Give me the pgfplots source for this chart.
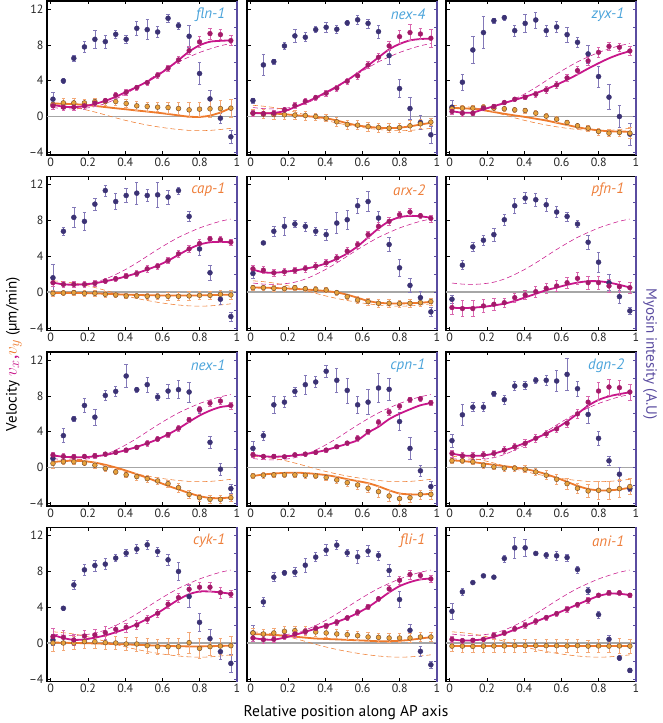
\documentclass[border=0pt]{standalone}
\usepackage{fontspec}
\setmainfont{PT Sans}
\usepackage{pgfplots}
\pgfplotsset{compat=1.18}
\usepackage{pgfplotstable}

\definecolor{mag}{HTML}{C8168A}
\definecolor{magdot}{HTML}{A31A6A}
\definecolor{magerr}{HTML}{D966AE}
\definecolor{org}{HTML}{EE7A2C}
\definecolor{orgdot}{HTML}{E9A23B}
\definecolor{orgedge}{HTML}{7A5230}
\definecolor{orgerr}{HTML}{F3A877}
\definecolor{myo}{HTML}{3B3274}
\definecolor{myoerr}{HTML}{8379B8}
\definecolor{rax}{HTML}{5A4CA0}
\definecolor{tblue}{HTML}{4AA3DA}
\definecolor{torg}{HTML}{EE7E3A}

\pgfplotstableread{
x wx wy
0.012 1.00 1.25
0.068 0.88 1.15
0.124 0.85 1.00
0.181 0.92 0.78
0.237 1.10 0.50
0.293 1.45 0.18
0.349 1.95 -0.15
0.405 2.55 -0.45
0.462 3.25 -0.72
0.518 4.00 -0.95
0.574 4.75 -1.15
0.630 5.45 -1.32
0.686 6.10 -1.45
0.743 6.65 -1.55
0.799 7.15 -1.58
0.855 7.55 -1.55
0.911 7.90 -1.45
0.967 8.15 -1.32
}\wt

% fln-1
\pgfplotstableread{
x m me vx vxe fx vy vye fy
0.012 1.93 0.8 1.19 0.4 1.30 1.34 0.5 1.45
0.068 3.98 0.25 1.04 0.35 1.10 1.52 0.5 1.42
0.124 6.50 0.35 1.04 0.35 1.05 1.52 0.5 1.38
0.181 7.77 0.65 1.19 0.35 1.15 1.52 0.4 1.30
0.237 8.62 1.0 1.49 0.35 1.40 1.67 0.4 1.18
0.293 8.36 0.7 1.78 0.3 1.75 1.67 0.4 1.05
0.349 9.18 0.5 2.38 0.3 2.20 1.67 0.4 0.92
0.405 8.62 0.4 2.71 0.3 2.75 1.45 0.45 0.80
0.462 9.85 0.8 3.23 0.3 3.30 1.19 0.5 0.67
0.518 9.70 1.1 3.79 0.3 3.90 1.12 0.5 0.55
0.574 9.44 0.6 4.61 0.3 4.60 1.04 0.5 0.42
0.630 10.97 0.45 5.39 0.35 5.40 1.00 0.6 0.28
0.686 10.15 0.4 6.32 0.4 6.30 0.89 0.7 0.12
0.743 8.96 1.2 7.36 0.45 7.25 0.74 0.8 -0.02
0.799 4.80 1.2 8.33 0.6 7.95 0.82 0.8 -0.05
0.855 1.97 1.0 9.26 0.6 8.35 0.86 0.9 0.10
0.911 -0.19 0.6 9.14 0.55 8.45 0.89 0.9 0.45
0.967 -2.27 0.75 8.48 0.55 8.50 0.93 1.0 0.95
}\tA

% nex-4
\pgfplotstableread{
x m me vx vxe fx vy vye fy
0.012 1.78 0.3 0.37 0.3 0.40 0.37 0.4 0.40
0.068 5.76 1.2 0.33 0.3 0.35 0.26 0.5 0.38
0.124 6.13 0.3 0.37 0.3 0.40 0.22 0.5 0.33
0.181 7.88 0.4 0.74 0.3 0.60 0.19 0.5 0.25
0.237 9.00 0.7 1.23 0.3 1.05 0.15 0.5 0.15
0.293 8.85 0.5 1.71 0.35 1.55 0.11 0.5 0.05
0.349 9.70 0.35 2.12 0.3 2.10 0.00 0.4 -0.05
0.405 9.96 0.6 2.60 0.3 2.70 -0.19 0.4 -0.20
0.462 9.74 0.5 3.16 0.3 3.35 -0.59 0.5 -0.45
0.518 10.45 0.3 3.94 0.3 4.05 -0.89 0.5 -0.75
0.574 10.80 0.5 4.54 0.35 4.85 -0.97 0.5 -1.00
0.630 10.40 0.5 5.76 0.35 5.70 -1.12 0.5 -1.15
0.686 9.48 0.7 6.62 0.4 6.60 -1.23 0.5 -1.25
0.743 6.80 1.0 7.88 0.5 7.50 -1.30 0.5 -1.30
0.799 3.12 1.0 8.92 0.7 8.10 -1.23 0.5 -1.25
0.855 0.89 1.2 9.37 0.9 8.50 -1.04 0.6 -1.10
0.911 -0.67 0.8 9.22 0.6 8.65 -0.82 0.5 -0.90
0.967 -2.04 1.0 8.74 1.0 8.70 -0.63 0.4 -0.70
}\tB

% zyx-1
\pgfplotstableread{
x m me vx vxe fx vy vye fy
0.012 1.04 0.8 0.56 0.3 0.60 0.86 0.3 0.95
0.068 3.83 0.9 0.37 0.3 0.42 0.93 0.3 0.92
0.124 7.43 1.5 0.37 0.25 0.45 0.93 0.3 0.85
0.181 9.37 1.8 0.93 0.25 0.80 1.04 0.3 0.70
0.237 10.70 0.3 1.12 0.25 1.15 0.93 0.3 0.50
0.293 11.04 0.3 1.56 0.25 1.50 0.86 0.3 0.30
0.349 9.59 0.6 1.93 0.25 1.85 0.74 0.3 0.12
0.405 10.40 1.0 2.16 0.25 2.20 0.67 0.3 -0.05
0.462 10.78 0.9 2.49 0.3 2.60 0.37 0.3 -0.25
0.518 9.59 0.6 2.97 0.35 3.05 0.04 0.3 -0.45
0.574 10.00 0.6 3.53 0.35 3.55 -0.30 0.3 -0.70
0.630 9.14 0.8 4.31 0.4 4.10 -0.67 0.3 -0.95
0.686 8.29 0.6 5.13 0.45 4.70 -1.04 0.3 -1.20
0.743 6.99 1.0 6.21 0.5 5.35 -1.30 0.35 -1.40
0.799 4.46 1.2 7.17 0.6 5.95 -1.67 0.4 -1.55
0.855 2.16 1.4 7.84 0.5 6.50 -1.86 0.4 -1.65
0.911 0.00 1.2 7.73 0.4 6.95 -1.78 0.4 -1.68
0.967 -1.97 1.2 7.32 0.5 7.30 -1.86 0.6 -1.70
}\tC

% cap-1
\pgfplotstableread{
x m me vx vxe fx vy vye fy
0.012 1.59 1.5 1.04 0.4 1.05 -0.15 0.3 -0.10
0.068 6.78 0.5 0.85 0.35 0.85 -0.11 0.3 -0.10
0.124 8.33 1.1 0.85 0.3 0.82 -0.07 0.3 -0.10
0.181 7.89 1.0 0.85 0.3 0.85 -0.15 0.3 -0.12
0.237 9.81 0.7 0.96 0.3 0.98 -0.15 0.3 -0.15
0.293 11.33 0.6 1.22 0.3 1.20 -0.26 0.3 -0.20
0.349 10.10 0.9 1.48 0.3 1.45 -0.33 0.3 -0.25
0.405 10.78 0.8 1.78 0.3 1.75 -0.44 0.3 -0.30
0.462 11.04 1.2 2.07 0.3 2.10 -0.44 0.3 -0.33
0.518 10.78 0.7 2.59 0.35 2.50 -0.48 0.3 -0.36
0.574 10.85 1.4 2.89 0.35 2.95 -0.48 0.3 -0.38
0.630 10.60 0.8 3.52 0.35 3.50 -0.48 0.4 -0.40
0.686 11.33 0.4 4.26 0.35 4.15 -0.48 0.5 -0.40
0.743 8.44 0.6 4.81 0.35 4.80 -0.44 0.5 -0.40
0.799 4.81 0.7 5.41 0.45 5.30 -0.37 0.5 -0.38
0.855 2.15 0.8 5.93 0.3 5.55 -0.37 0.5 -0.35
0.911 -0.81 0.6 5.85 0.35 5.60 -0.26 0.5 -0.32
0.967 -2.74 0.5 5.56 0.35 5.55 -0.33 0.5 -0.30
}\tD

% arx-2
\pgfplotstableread{
x m me vx vxe fx vy vye fy
0.012 2.07 0.5 2.59 0.4 2.50 0.48 0.3 0.50
0.068 5.48 0.2 2.44 0.4 2.20 0.48 0.3 0.48
0.124 6.78 0.6 2.15 0.35 2.15 0.41 0.3 0.45
0.181 7.33 1.0 2.26 0.35 2.25 0.37 0.3 0.40
0.237 7.59 0.4 2.41 0.35 2.40 0.48 0.3 0.35
0.293 7.33 0.5 2.63 0.4 2.60 0.37 0.3 0.28
0.349 6.78 0.4 2.89 0.4 2.85 0.30 0.3 0.20
0.405 6.41 0.6 3.26 0.4 3.20 0.22 0.3 0.10
0.462 7.70 1.2 3.81 0.4 3.70 -0.07 0.3 -0.05
0.518 8.07 1.1 4.56 0.4 4.30 -0.52 0.3 -0.30
0.574 9.63 0.8 5.30 0.4 5.10 -0.89 0.4 -0.65
0.630 10.10 1.1 6.41 0.4 6.10 -1.07 0.4 -1.00
0.686 8.26 0.7 7.33 0.4 7.10 -1.26 0.4 -1.20
0.743 5.30 0.8 7.89 0.4 7.90 -1.26 0.4 -1.27
0.799 2.70 0.9 8.63 0.4 8.35 -1.30 0.4 -1.28
0.855 0.74 0.8 8.93 0.4 8.50 -1.26 0.4 -1.25
0.911 -0.63 0.7 8.52 0.3 8.45 -1.19 0.4 -1.20
0.967 -2.22 0.5 8.22 0.4 8.30 -1.07 0.4 -1.10
}\tE

% pfn-1
\pgfplotstableread{
x m me vx vxe fx
0.012 -0.81 0.4 -1.74 0.8 -1.75
0.068 3.00 0.5 -1.85 0.9 -1.80
0.124 5.04 0.5 -1.85 0.9 -1.75
0.181 5.78 0.6 -1.56 0.7 -1.65
0.237 6.41 0.7 -1.37 0.7 -1.50
0.293 8.07 0.6 -1.19 0.5 -1.30
0.349 9.63 0.8 -0.63 0.5 -1.00
0.405 10.48 0.6 -0.33 0.5 -0.60
0.462 10.30 0.7 0.04 0.6 -0.20
0.518 9.74 0.7 0.41 0.6 0.20
0.574 8.93 0.6 0.67 0.6 0.50
0.630 8.44 0.5 1.04 0.6 0.80
0.686 7.59 0.4 1.52 0.7 1.05
0.743 5.56 0.8 1.04 0.7 1.20
0.799 3.33 1.1 1.04 0.7 1.20
0.855 1.04 0.9 0.67 0.7 1.05
0.911 -0.52 0.7 0.59 0.6 0.80
0.967 -2.11 0.4 0.48 0.6 0.50
}\tF

% nex-1
\pgfplotstableread{
x m me vx vxe fx vy vye fy
0.012 1.01 0.4 1.39 0.3 1.35 0.45 0.5 0.60
0.068 3.56 0.8 1.24 0.3 1.20 0.64 0.3 0.72
0.124 5.43 0.3 1.20 0.25 1.15 0.64 0.3 0.75
0.181 6.93 0.8 1.24 0.25 1.15 0.49 0.3 0.70
0.237 5.62 0.9 1.31 0.25 1.25 0.26 0.3 0.55
0.293 8.05 0.6 1.50 0.25 1.40 -0.11 0.3 0.30
0.349 8.50 0.6 1.69 0.2 1.65 -0.49 0.3 0.00
0.405 10.22 1.3 1.95 0.2 1.95 -0.82 0.3 -0.35
0.462 8.69 0.3 2.25 0.25 2.30 -1.01 0.4 -0.75
0.518 9.25 0.8 2.70 0.3 2.70 -1.24 0.4 -1.15
0.574 7.87 0.4 3.18 0.3 3.15 -1.50 0.4 -1.60
0.630 8.54 0.8 3.67 0.3 3.70 -1.80 0.4 -2.05
0.686 8.69 1.0 4.38 0.3 4.35 -2.25 0.5 -2.45
0.743 8.43 1.1 5.32 0.3 5.10 -3.00 0.4 -2.85
0.799 6.48 0.4 6.48 0.3 5.80 -3.37 0.4 -3.20
0.855 2.81 0.7 7.19 0.3 6.35 -3.56 0.4 -3.40
0.911 -0.19 0.7 7.42 0.4 6.75 -3.56 0.4 -3.42
0.967 -2.36 0.5 6.93 0.4 6.90 -3.37 0.4 -3.35
}\tG

% cpn-1
\pgfplotstableread{
x m me vx vxe fx vy vye fy
0.012 2.13 0.8 1.42 0.3 1.40 -0.94 0.3 -0.95
0.068 3.56 0.5 1.24 0.2 1.25 -0.86 0.3 -0.78
0.124 7.00 1.0 1.24 0.2 1.20 -0.82 0.3 -0.68
0.181 7.30 0.6 1.20 0.2 1.25 -0.82 0.3 -0.60
0.237 8.50 0.5 1.42 0.2 1.35 -0.82 0.3 -0.58
0.293 9.25 1.1 1.50 0.2 1.50 -0.86 0.3 -0.62
0.349 9.55 0.6 1.69 0.2 1.70 -0.94 0.3 -0.72
0.405 10.75 0.7 1.95 0.2 1.95 -1.12 0.3 -0.85
0.462 9.74 1.3 2.32 0.2 2.30 -1.39 0.4 -1.05
0.518 8.61 1.4 2.73 0.2 2.65 -1.69 0.4 -1.30
0.574 7.00 1.0 3.26 0.3 3.05 -1.95 0.5 -1.52
0.630 7.30 1.4 4.01 0.3 3.90 -2.32 0.5 -1.75
0.686 8.88 1.6 5.06 0.3 4.55 -2.70 0.6 -2.10
0.743 8.73 1.2 6.18 0.3 5.40 -3.18 0.6 -2.55
0.799 5.13 1.0 6.85 0.3 6.00 -3.48 0.6 -2.90
0.855 2.13 1.2 7.57 0.3 6.50 -3.37 0.5 -3.00
0.911 -0.37 0.6 7.68 0.3 6.95 -3.00 0.5 -3.00
0.967 -2.13 0.6 7.23 0.3 7.20 -3.00 0.5 -2.95
}\tH

% dgn-2
\pgfplotstableread{
x m me vx vxe fx vy vye fy
0.012 3.00 0.7 1.57 0.4 1.55 0.75 0.3 0.80
0.068 5.88 1.2 1.31 0.4 1.35 0.75 0.3 0.72
0.124 6.74 0.5 1.31 0.4 1.30 0.64 0.3 0.60
0.181 6.74 0.5 1.42 0.4 1.35 0.26 0.3 0.45
0.237 8.24 0.3 1.57 0.4 1.55 0.07 0.3 0.30
0.293 7.57 0.5 1.95 0.4 1.90 -0.07 0.3 0.15
0.349 9.10 0.5 2.32 0.4 2.30 -0.07 0.3 0.00
0.405 9.18 0.4 2.70 0.4 2.75 -0.19 0.4 -0.18
0.462 9.74 0.3 3.26 0.4 3.25 -0.49 0.4 -0.42
0.518 9.74 0.6 3.75 0.4 3.80 -0.86 0.5 -0.75
0.574 9.66 1.2 4.31 0.4 4.40 -1.31 0.6 -1.15
0.630 10.40 1.8 4.94 0.4 5.15 -1.80 0.6 -1.60
0.686 8.80 0.8 5.99 0.5 6.00 -2.32 0.6 -2.05
0.743 5.92 1.0 7.30 0.6 6.90 -2.62 0.7 -2.40
0.799 3.26 0.8 8.54 1.0 7.55 -2.55 1.0 -2.55
0.855 0.75 0.5 8.99 0.9 7.95 -2.55 1.0 -2.55
0.911 -0.75 0.8 8.91 0.8 8.20 -2.36 1.0 -2.45
0.967 -2.36 0.3 8.43 0.9 8.40 -2.13 0.9 -2.25
}\tI

% cyk-1
\pgfplotstableread{
x m me vx vxe fx vy vye fy
0.012 0.34 0.6 0.71 0.9 0.90 0.00 0.9 0.05
0.068 3.88 0.2 0.63 0.8 0.55 0.00 0.8 0.03
0.124 6.49 0.5 0.34 0.6 0.35 0.00 0.7 0.00
0.181 8.17 0.6 0.78 0.6 0.40 0.15 0.7 -0.02
0.237 8.66 0.6 0.90 0.6 0.60 0.15 0.7 -0.05
0.293 8.81 0.6 1.16 0.7 0.85 0.04 0.7 -0.08
0.349 9.48 0.4 1.53 0.5 1.20 0.00 0.7 -0.12
0.405 10.04 0.4 1.75 0.5 1.60 -0.11 0.7 -0.16
0.462 10.49 0.5 2.01 0.5 2.10 -0.11 0.8 -0.20
0.518 10.97 0.5 2.65 0.4 2.70 -0.30 0.8 -0.25
0.574 10.22 0.5 3.32 0.4 3.35 -0.41 0.8 -0.30
0.630 9.29 0.6 4.33 0.4 4.10 -0.41 0.9 -0.33
0.686 7.99 1.0 5.07 0.5 4.85 -0.41 0.9 -0.36
0.743 5.19 1.2 6.00 0.6 5.45 0.04 1.2 -0.38
0.799 2.31 1.0 6.23 0.6 5.75 -0.60 1.1 -0.38
0.855 0.49 1.0 6.23 0.5 5.75 -0.41 1.0 -0.36
0.911 -0.97 0.8 5.63 0.6 5.65 -0.34 0.9 -0.33
0.967 -2.28 1.0 5.45 0.4 5.50 -0.30 1.1 -0.30
}\tJ

% fli-1
\pgfplotstableread{
x m me vx vxe fx vy vye fy
0.012 1.12 0.9 0.56 0.4 0.55 1.12 0.5 1.00
0.068 4.59 0.5 0.37 0.35 0.40 1.01 0.5 0.95
0.124 7.35 0.5 0.41 0.35 0.38 1.12 0.5 0.90
0.181 7.84 0.3 0.71 0.35 0.60 1.31 0.5 0.80
0.237 7.91 0.5 1.01 0.35 0.90 1.38 0.5 0.70
0.293 8.69 0.8 1.27 0.35 1.25 1.31 0.5 0.60
0.349 9.59 0.5 1.64 0.3 1.60 1.23 0.5 0.50
0.405 10.37 0.6 1.90 0.3 1.95 1.12 0.5 0.45
0.462 10.93 0.5 2.31 0.3 2.35 1.01 0.5 0.40
0.518 10.07 0.4 2.80 0.3 2.80 0.93 0.5 0.35
0.574 9.63 0.7 3.43 0.3 3.35 0.82 0.5 0.30
0.630 10.26 0.6 4.03 0.3 4.00 0.67 0.5 0.25
0.686 9.78 0.5 4.93 0.3 4.80 0.63 0.5 0.20
0.743 8.10 0.7 6.04 0.4 5.65 0.56 0.5 0.20
0.799 4.85 0.9 7.01 0.4 6.35 0.56 0.5 0.25
0.855 1.42 0.7 7.65 0.5 6.80 0.56 0.5 0.35
0.911 -0.93 0.6 7.54 0.4 7.10 0.67 0.5 0.50
0.967 -2.43 0.4 7.16 0.4 7.20 0.67 0.5 0.65
}\tK

% ani-1
\pgfplotstableread{
x m me vx vxe fx vy vye fy
0.012 3.54 0.9 0.41 0.3 0.40 -0.35 0.6 -0.35
0.068 5.71 0.4 0.26 0.25 0.28 -0.35 0.7 -0.35
0.124 6.75 0.1 0.30 0.25 0.30 -0.38 0.7 -0.35
0.181 7.50 0.1 0.41 0.25 0.42 -0.35 0.7 -0.35
0.237 7.35 0.1 0.86 0.3 0.70 -0.33 0.7 -0.35
0.293 9.44 0.4 1.12 0.3 1.05 -0.33 0.7 -0.35
0.349 10.63 1.2 1.60 0.3 1.50 -0.30 0.7 -0.35
0.405 10.63 0.9 1.98 0.3 1.95 -0.30 0.7 -0.35
0.462 10.00 0.1 2.43 0.3 2.40 -0.28 0.7 -0.35
0.518 9.81 0.3 2.84 0.3 2.85 -0.30 0.7 -0.35
0.574 9.74 0.5 3.28 0.3 3.30 -0.30 0.7 -0.35
0.630 9.55 0.4 3.77 0.3 3.80 -0.33 0.7 -0.35
0.686 8.21 0.4 4.29 0.3 4.30 -0.30 0.7 -0.35
0.743 5.82 0.4 4.78 0.3 4.80 -0.35 0.7 -0.35
0.799 3.17 0.4 5.34 0.2 5.25 -0.33 0.7 -0.35
0.855 0.41 0.4 5.60 0.25 5.50 -0.35 0.7 -0.35
0.911 -1.68 0.3 5.60 0.25 5.50 -0.33 0.8 -0.35
0.967 -3.06 0.2 5.34 0.25 5.35 -0.35 0.8 -0.35
}\tL

\tikzset{gtitle/.style={anchor=east, font=\itshape\fontsize{15}{17}\selectfont}}

\pgfplotsset{
  panel/.style={
    scale only axis, width=190pt, height=154pt, anchor=north west,
    xmin=-0.02, xmax=1.0, ymin=-4.3, ymax=12.9,
    xtick={0,0.2,0.4,0.6,0.8,1}, xticklabels={0,0.2,0.4,0.6,0.8,1},
    ytick={-4,0,4,8,12}, yticklabels={},
    ytick pos=left, tick align=inside, major tick length=3.5pt,
    axis line style={line width=1.2pt},
    tick style={black, line width=0.6pt},
    tick label style={font=\fontsize{12}{13}\selectfont, text=black!85},
    xticklabel style={yshift=1pt},
  },
  lefty/.style={yticklabels={–4,0,4,8,12}},
  zeroline/.style={color=black!35, line width=1.4pt},
  wtdash/.style={line width=0.55pt, dash pattern=on 5pt off 3pt},
  errsty/.style={error bars/.cd, y dir=both, y explicit,
    error bar style={#1, line width=0.6pt},
    error mark options={rotate=90, #1, mark size=1.7pt, line width=0.6pt}},
}

\newcommand{\rightax}[2]{%
\begin{axis}[scale only axis, width=190pt, height=154pt, anchor=north west, at={(#1,#2)},
  xmin=-0.02, xmax=1.0, ymin=-4.3, ymax=12.9,
  axis x line=none, axis y line*=right,
  ytick={-4,-2,0,2,4,6,8,10,12}, yticklabels={},
  tick align=inside, major tick length=3.5pt,
  axis line style={draw=rax, line width=1.2pt, -},
  tick style={rax, line width=0.6pt}]
\end{axis}}

\newcommand{\myoplot}[1]{%
\addplot[only marks, mark=*, mark size=2.5pt, color=myo, errsty=myoerr] table[x=x, y=m, y error=me]{#1};}
\newcommand{\vyplot}[1]{%
\addplot[org, line width=1.8pt, smooth] table[x=x, y=fy]{#1};
\addplot[only marks, mark=*, mark size=2.4pt, mark options={fill=orgdot, draw=orgedge, line width=0.5pt}, errsty=orgerr] table[x=x, y=vy, y error=vye]{#1};}
\newcommand{\vxplot}[1]{%
\addplot[mag, line width=1.8pt, smooth] table[x=x, y=fx]{#1};
\addplot[only marks, mark=*, mark size=2.4pt, mark options={fill=magdot, draw=magdot}, errsty=magerr] table[x=x, y=vx, y error=vxe]{#1};}

\newcommand{\panel}[6]{%
\begin{axis}[panel, at={(#1,#2)}, #6]
\addplot[zeroline] coordinates {(-0.02,0) (1,0)};
\addplot[mag, wtdash, smooth] table[x=x, y=wx]{\wt};
\addplot[org, wtdash, smooth] table[x=x, y=wy]{\wt};
\myoplot{#3}
\vyplot{#3}
\vxplot{#3}
\node[gtitle, text=#5] at (axis cs:0.955,11.4) {#4};
\end{axis}
\rightax{#1}{#2}}

\begin{document}
\begin{tikzpicture}
\useasboundingbox (0,0) rectangle (663pt,723pt);
\panel{47pt}{722pt}{\tA}{fln-1}{tblue}{lefty}
\panel{247pt}{722pt}{\tB}{nex-4}{tblue}{}
\panel{446pt}{722pt}{\tC}{zyx-1}{tblue}{}
\panel{47pt}{546.5pt}{\tD}{cap-1}{torg}{lefty}
\panel{247pt}{546.5pt}{\tE}{arx-2}{torg}{}
% pfn-1: no v_y
\begin{axis}[panel, at={(446pt,546.5pt)}]
\addplot[zeroline] coordinates {(-0.02,0) (1,0)};
\addplot[mag, wtdash, smooth] table[x=x, y=wx]{\wt};
\myoplot{\tF}
\vxplot{\tF}
\node[gtitle, text=torg] at (axis cs:0.955,11.4) {pfn-1};
\end{axis}
\rightax{446pt}{546.5pt}
\panel{47pt}{371pt}{\tG}{nex-1}{tblue}{lefty}
\panel{247pt}{371pt}{\tH}{cpn-1}{tblue}{}
\panel{446pt}{371pt}{\tI}{dgn-2}{tblue}{}
\panel{47pt}{195.5pt}{\tJ}{cyk-1}{torg}{lefty}
\panel{247pt}{195.5pt}{\tK}{fli-1}{torg}{}
\panel{446pt}{195.5pt}{\tL}{ani-1}{torg}{}
\node[rotate=90, font=\fontsize{15}{17}\selectfont, inner sep=0pt] at (14pt,369pt)
  {Velocity {\fontsize{19}{20}\selectfont\color{mag}$v_x$,}{\fontsize{19}{20}\selectfont\color{org}$v_y$} (µm/min)};
\node[rotate=-90, text=rax, font=\fontsize{15}{17}\selectfont, inner sep=0pt] at (650pt,369pt)
  {Myosin intesity (A.U)};
\node[font=\fontsize{15.5}{17}\selectfont] at (346pt,10pt)
  {Relative position along AP axis};
\end{tikzpicture}
\end{document}
